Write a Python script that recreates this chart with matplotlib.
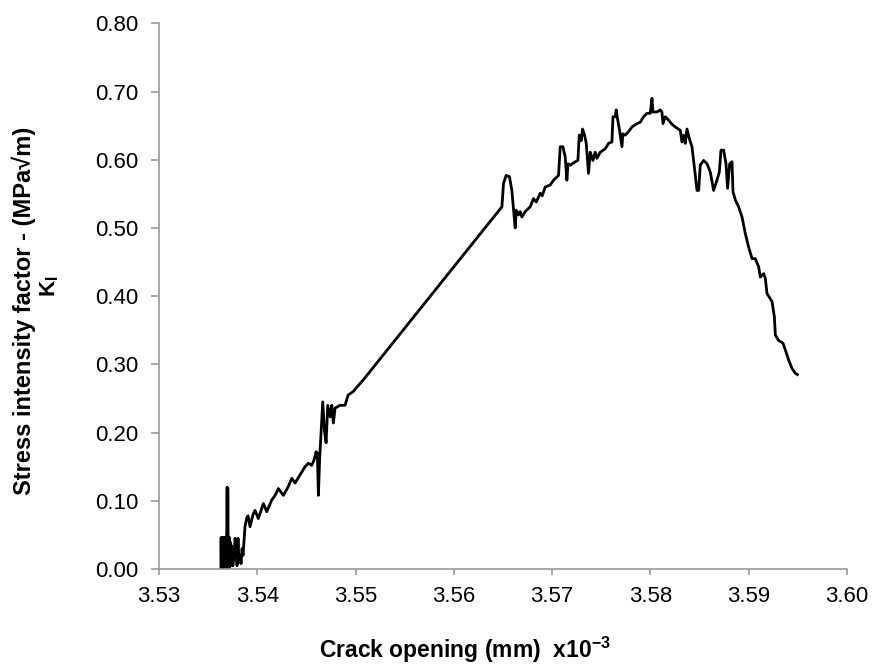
import matplotlib
matplotlib.use('Agg')
import matplotlib.pyplot as plt

plt.rcParams['font.family'] = ['Liberation Sans', 'DejaVu Sans']
plt.rcParams['mathtext.fontset'] = 'custom'
plt.rcParams['mathtext.rm'] = 'Liberation Sans:bold'
plt.rcParams['mathtext.bf'] = 'Liberation Sans:bold'
plt.rcParams['mathtext.default'] = 'bf'
plt.rcParams['path.simplify'] = False

# crack opening (mm, x10^-3) and stress intensity factor K_I (MPa sqrt(m))
# first stretch: dense chatter right at the start of loading
opening_start = [
    3.53630, 3.53632, 3.53635, 3.53637, 3.53640, 3.53642, 3.53645, 3.53647,
    3.53650, 3.53652, 3.53655, 3.53657, 3.53660, 3.53662, 3.53665, 3.53667,
    3.53670, 3.53672, 3.53675, 3.53677, 3.53680, 3.53682, 3.53685, 3.53687,
    3.53690, 3.53693, 3.53697, 3.53700, 3.53703, 3.53706, 3.53708, 3.53711,
    3.53713, 3.53716, 3.53718, 3.53721, 3.53723, 3.53726, 3.53728, 3.53731,
    3.53734, 3.53736, 3.53739, 3.53741, 3.53744, 3.53746, 3.53749, 3.53751,
]
k_start = [
    0.000, 0.046, 0.000, 0.046, 0.000, 0.046, 0.000, 0.046,
    0.000, 0.046, 0.000, 0.046, 0.000, 0.046, 0.000, 0.046,
    0.000, 0.046, 0.000, 0.046, 0.000, 0.046, 0.000, 0.046,
    0.060, 0.120, 0.030, 0.118, 0.046, 0.000, 0.046, 0.000,
    0.046, 0.000, 0.046, 0.005, 0.040, 0.005, 0.030, 0.005,
    0.035, 0.005, 0.030, 0.008, 0.025, 0.005, 0.020, 0.005,
]
opening = opening_start + [
    3.53764, 3.53774,
    3.53784, 3.53794, 3.53804, 3.53814, 3.53825, 3.53835, 3.53845, 3.53855,
    3.53875, 3.53893, 3.53906, 3.53926, 3.53957, 3.53977, 3.54011, 3.54062,
    3.54096, 3.54147, 3.54181, 3.54214, 3.54265, 3.54316, 3.54351, 3.54384,
    3.54435, 3.54486, 3.54520, 3.54554, 3.54578, 3.54598, 3.54611, 3.54622,
    3.54634, 3.54666, 3.54683, 3.54700, 3.54717, 3.54741, 3.54758, 3.54774,
    3.54792, 3.54843, 3.54893, 3.54924, 3.54975, 3.55046, 3.55077,
    3.56489, 3.56505, 3.56532, 3.56566, 3.56590, 3.56624, 3.56634, 3.56658,
    3.56675, 3.56692, 3.56726, 3.56777, 3.56810, 3.56838, 3.56879, 3.56899,
    3.56929, 3.56980, 3.57014, 3.57065, 3.57082, 3.57110, 3.57133, 3.57150,
    3.57161, 3.57184, 3.57235, 3.57262, 3.57276, 3.57296, 3.57309, 3.57330,
    3.57347, 3.57370, 3.57388, 3.57415, 3.57438, 3.57456, 3.57489, 3.57540,
    3.57574, 3.57608, 3.57619, 3.57642, 3.57652, 3.57665, 3.57686, 3.57710,
    3.57720, 3.57744, 3.57777, 3.57812, 3.57863, 3.57897, 3.57930, 3.57965,
    3.57998, 3.58016, 3.58026, 3.58067, 3.58100, 3.58117, 3.58128, 3.58151,
    3.58185, 3.58219, 3.58253, 3.58304, 3.58321, 3.58337, 3.58355, 3.58372,
    3.58398, 3.58423, 3.58474, 3.58491, 3.58507, 3.58541, 3.58576, 3.58609,
    3.58643, 3.58677, 3.58701, 3.58718, 3.58745, 3.58769, 3.58785, 3.58806,
    3.58830, 3.58840, 3.58864, 3.58897, 3.58932, 3.58965, 3.58999, 3.59034,
    3.59067, 3.59101, 3.59118, 3.59152, 3.59169, 3.59186, 3.59237, 3.59261,
    3.59271, 3.59304, 3.59349, 3.59373, 3.59407, 3.59441, 3.59474, 3.59495,
]
k_i = k_start + [
    0.020, 0.045,
    0.030, 0.005, 0.045, 0.010, 0.020, 0.008, 0.030, 0.020,
    0.062, 0.075, 0.078, 0.062, 0.080, 0.086, 0.074, 0.096,
    0.084, 0.101, 0.108, 0.118, 0.108, 0.121, 0.133, 0.126,
    0.138, 0.150, 0.155, 0.152, 0.160, 0.172, 0.170, 0.108,
    0.160, 0.245, 0.204, 0.185, 0.240, 0.223, 0.240, 0.214,
    0.236, 0.240, 0.240, 0.255, 0.260, 0.272, 0.277,
    0.531, 0.565, 0.577, 0.575, 0.555, 0.500, 0.526, 0.519,
    0.524, 0.516, 0.524, 0.531, 0.543, 0.538, 0.551, 0.547,
    0.560, 0.563, 0.570, 0.577, 0.619, 0.619, 0.604, 0.570,
    0.594, 0.592, 0.597, 0.599, 0.636, 0.628, 0.645, 0.636,
    0.624, 0.580, 0.611, 0.599, 0.611, 0.602, 0.611, 0.616,
    0.624, 0.626, 0.663, 0.663, 0.673, 0.660, 0.643, 0.619,
    0.638, 0.636, 0.641, 0.648, 0.653, 0.655, 0.663, 0.668,
    0.668, 0.690, 0.670, 0.670, 0.673, 0.670, 0.653, 0.663,
    0.658, 0.652, 0.648, 0.643, 0.626, 0.636, 0.624, 0.645,
    0.630, 0.619, 0.555, 0.555, 0.592, 0.599, 0.594, 0.582,
    0.555, 0.570, 0.582, 0.614, 0.614, 0.594, 0.558, 0.594,
    0.597, 0.553, 0.541, 0.531, 0.516, 0.492, 0.472, 0.455,
    0.455, 0.443, 0.428, 0.433, 0.426, 0.404, 0.392, 0.370,
    0.343, 0.335, 0.331, 0.321, 0.306, 0.294, 0.287, 0.285,
]

x_ticks = [3.53, 3.54, 3.55, 3.56, 3.57, 3.58, 3.59, 3.60]
y_ticks = [0.0, 0.1, 0.2, 0.3, 0.4, 0.5, 0.6, 0.7, 0.8]

fig = plt.figure(figsize=(8.75, 6.68), dpi=100)
ax = fig.add_axes([159 / 875, 1 - 569 / 668, (847 - 159) / 875, (569 - 23.3) / 668])

ax.plot(opening, k_i, color='black', lw=2.0, solid_joinstyle='round')

ax.set_xlim(3.53, 3.60)
ax.set_ylim(0.0, 0.8)
ax.set_xticks(x_ticks)
ax.set_yticks(y_ticks)
ax.set_xticklabels(['%.2f' % t for t in x_ticks])
ax.set_yticklabels(['%.2f' % t for t in y_ticks])

for s in ['top', 'right']:
    ax.spines[s].set_visible(False)
for s in ['left', 'bottom']:
    ax.spines[s].set_color('#9a9a9a')
    ax.spines[s].set_linewidth(1.2)
ax.tick_params(axis='both', direction='out', color='#9a9a9a', width=1.2,
               length=5.5, labelsize=16, labelcolor='black')
ax.tick_params(axis='y', pad=9)
ax.tick_params(axis='x', pad=8, length=4.5)

# two-line y label: description, then the K_I symbol under it
fig.text(24 / 875, 1 - 311 / 668, 'Stress intensity factor - (MPa\u221am)',
         rotation=90, fontsize=17, fontweight='bold', ha='center', va='center')
fig.text(50 / 875, 1 - 286 / 668, r'K$_{I}$',
         rotation=90, fontsize=16, fontweight='bold', ha='center', va='center')
fig.text(465 / 875, 1 - 650 / 668, r'Crack opening (mm)  x10$^{-3}$',
         fontsize=16.5, fontweight='bold', ha='center', va='center')

fig.savefig('out.png', dpi=100)
